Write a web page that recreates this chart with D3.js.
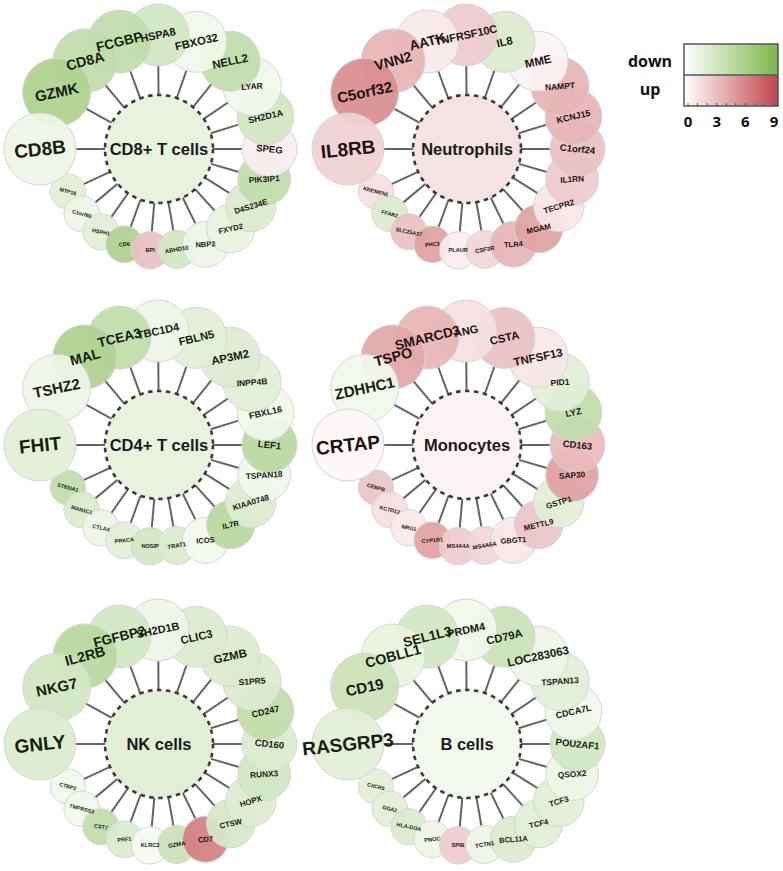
<!DOCTYPE html>
<html><head><meta charset="utf-8">
<script src="https://cdn.jsdelivr.net/npm/d3@7"></script>
<style>body{margin:0;background:#fff} svg{display:block}</style>
</head><body><svg id="c" width="783" height="871"></svg>
<script>
// ---------------- DATA ----------------
const cellTypes  = ["CD8+ T cells", "Neutrophils", "CD4+ T cells", "Monocytes", "NK cells", "B cells"];
// signed expression score: negative = down (green), positive = up (red), |value| on 0..9
const cellValues = [-1.6, 1.4, -1.6, 0.6, -2.0, -0.9];

const genesCD8  = ["CD8B","GZMK","CD8A","FCGBP","HSPA8","FBXO32","NELL2","LYAR","SH2D1A","SPEG","PIK3IP1","D4S234E","FXYD2","NBP2","ABHD10","BPI","CD6","HSPH1","C1orf80","MTP18"];
const valuesCD8 = [-1.2,-5.5,-4.2,-4.2,-3,-1,-4.2,-1,-3,0.8,-4.2,-2.5,-1.5,-1.2,-3,3,-5.5,-2,-1.2,-2];

const genesNeu  = ["IL8RB","C5orf32","VNN2","AATK","TNFRSF10C","IL8","MME","NAMPT","KCNJ15","C1orf24","IL1RN","TECPR2","MGAM","TLR4","CSF3R","PLAUR","PHC3","SLC25A37","FFAR2","KREMEN1"];
const valuesNeu = [2.2,5.5,3.6,1,2.5,-2.5,0.6,3.6,3.6,3,2.5,1.2,4.5,3.6,2,0.8,4.6,3,-2.5,1.5];

const genesCD4  = ["FHIT","TSHZ2","MAL","TCEA3","TBC1D4","FBLN5","AP3M2","INPP4B","FBXL16","LEF1","TSPAN18","KIAA0748","IL7R","ICOS","TRAT1","NOSIP","PRKCA","CTLA4","MAN1C1","ST8SIA1"];
const valuesCD4 = [-2,-1.2,-5.5,-4.2,-1.2,-2,-2.3,-2,-1,-4.8,-1,-2.3,-4.8,-0.8,-2.5,-3,-2,-1.2,-2.5,-4.2];

const genesMono  = ["CRTAP","ZDHHC1","TSPO","SMARCD3","ANG","CSTA","TNFSF13","PID1","LYZ","CD163","SAP30","GSTP1","METTL9","GBGT1","MS4A6A","MS4A4A","CYP1B1","NRG1","KCTD12","CEBPB"];
const valuesMono = [0.4,-1,4.2,3.6,1.5,3,1.2,-2,-4.2,3.3,4.6,-2,2.8,1.2,2,2.5,4.5,1,1.5,2.8];

const genesNK  = ["GNLY","NKG7","IL2RB","FGFBP2","SH2D1B","CLIC3","GZMB","S1PR5","CD247","CD160","RUNX3","HOPX","CTSW","CD7","GZMA","KLRC3","PRF1","CST7","TMPRSS3","CTBP2"];
const valuesNK = [-2.5,-3,-4.8,-3,-1.2,-2.5,-2.5,-2.5,-4.2,-2.5,-3,-2.3,-2.8,6.2,-3.6,-0.6,-2.5,-4.2,-1,-1];

const genesB  = ["RASGRP3","CD19","COBLL1","SEL1L3","PRDM4","CD79A","LOC283063","TSPAN13","CDCA7L","POU2AF1","QSOX2","TCF3","TCF4","BCL11A","TCTN1","SPIB","PNOC","HLA-DOA","GGA2","CXCR5"];
const valuesB = [-2,-3.6,-1.5,-3,-1,-3.6,-1.2,-2,-1,-3,-1.2,-2,-2,-2.5,-1.2,2.5,-1.2,-2.5,-2,-2];

const legendLabels = ["down", "up"];
const legendTicks  = [0, 3, 6, 9];

// ---------------- LAYOUT ----------------
const panels = [
  {name: cellTypes[0], center: cellValues[0], genes: genesCD8,  values: valuesCD8,  col: 0, row: 0},
  {name: cellTypes[1], center: cellValues[1], genes: genesNeu,  values: valuesNeu,  col: 1, row: 0},
  {name: cellTypes[2], center: cellValues[2], genes: genesCD4,  values: valuesCD4,  col: 0, row: 1},
  {name: cellTypes[3], center: cellValues[3], genes: genesMono, values: valuesMono, col: 1, row: 1},
  {name: cellTypes[4], center: cellValues[4], genes: genesNK,   values: valuesNK,   col: 0, row: 2},
  {name: cellTypes[5], center: cellValues[5], genes: genesB,    values: valuesB,    col: 1, row: 2}
];
const colX = [159, 467], rowY = [149, 445, 744];
const hubR = 54, ringGap = 83;

// rank -> angle (deg, screen coords, clockwise from the left over the top)
const angleScale  = d3.scaleLinear().domain([0,1,2,6,9,14,19]).range([180,209,230,309,360,440,515]);
const radiusScale = d3.scaleLinear().domain([0,1,2,6,9,13,14,19]).range([36,34,32,30,27.5,23,19,17.5]);
const fontScale   = d3.scaleLinear().domain([0,1,3,4,6,7,9,10,13,14,15,19]).range([19,15,13.5,11,11.5,8.5,9.5,8.3,7.5,6,5.6,5.3]);
const tiltByRank  = [-6,-12,-15,-14,-12,-13,-12,-4,-13,6,-4,-17,-13,-4,-10,0,-6,12,15,15];

const downColor = d3.scaleLinear().domain([0,9]).range(["#ffffff","#7cb64a"]).interpolate(d3.interpolateRgb);
const upColor   = d3.scaleLinear().domain([0,9]).range(["#ffffff","#c0454a"]).interpolate(d3.interpolateRgb);
const colorOf = v => v < 0 ? downColor(-v) : upColor(v);

const svg = d3.select("#c");
const FONT = "'Liberation Sans', Arial, Helvetica, sans-serif";

panels.forEach(p => {
  const cx = colX[p.col], cy = rowY[p.row];
  const g = svg.append("g").attr("transform", `translate(${cx},${cy})`);
  const nodes = p.genes.map((gname, i) => {
    const a = angleScale(i) * Math.PI / 180;
    const r = radiusScale(i);
    const d = ringGap + r;
    return {gname, v: p.values[i], i, a, r, d, x: d * Math.cos(a), y: d * Math.sin(a)};
  });
  // spokes
  g.append("g").selectAll("line").data(nodes).join("line")
    .attr("x1", n => hubR * Math.cos(n.a)).attr("y1", n => hubR * Math.sin(n.a))
    .attr("x2", n => (n.d - n.r + 2) * Math.cos(n.a)).attr("y2", n => (n.d - n.r + 2) * Math.sin(n.a))
    .attr("stroke", "#646464").attr("stroke-width", 2);
  // hub
  g.append("circle").attr("r", hubR)
    .attr("fill", colorOf(p.center))
    .attr("stroke", "#3a3a3a").attr("stroke-width", 2.6).attr("stroke-dasharray", "4.5,4.5");
  g.append("text").text(p.name)
    .attr("text-anchor", "middle").attr("dy", "0.35em")
    .attr("font-family", FONT).attr("font-weight", "bold").attr("font-size", 16.5)
    .attr("fill", "#1b1b1b");
  // nodes (earlier ranks on top)
  const ordered = nodes.slice().reverse();
  g.append("g").selectAll("circle").data(ordered).join("circle")
    .attr("cx", n => n.x).attr("cy", n => n.y).attr("r", n => n.r)
    .attr("fill", n => colorOf(n.v)).attr("fill-opacity", 0.93)
    .attr("stroke", "#d6d6d6").attr("stroke-width", 1);
  // labels
  g.append("g").selectAll("text").data(nodes).join("text")
    .text(n => n.gname)
    .attr("transform", n => `translate(${n.x},${n.y}) rotate(${tiltByRank[n.i]})`)
    .attr("text-anchor", "middle").attr("dy", "0.35em")
    .attr("font-family", FONT).attr("font-weight", "bold")
    .attr("font-size", n => fontScale(n.i))
    .attr("fill", n => n.v < 0 ? "#16200f" : "#24110f");
});

// ---------------- LEGEND ----------------
const lx = d3.scaleLinear().domain([0, 9]).range([688, 774]);
const defs = svg.append("defs");
[["gDown", "#7cb64a"], ["gUp", "#c0454a"]].forEach(([id, c]) => {
  const lg = defs.append("linearGradient").attr("id", id).attr("x1", "0%").attr("x2", "100%");
  lg.append("stop").attr("offset", "0%").attr("stop-color", "#ffffff");
  lg.append("stop").attr("offset", "100%").attr("stop-color", c);
});
const lgX0 = lx(0) - 4, lgX1 = lx(9) + 4, lgY0 = 44, lgYm = 75, lgY1 = 106;
const leg = svg.append("g");
leg.append("rect").attr("x", lgX0).attr("y", lgY0).attr("width", lgX1 - lgX0).attr("height", lgYm - lgY0).attr("fill", "url(#gDown)");
leg.append("rect").attr("x", lgX0).attr("y", lgYm).attr("width", lgX1 - lgX0).attr("height", lgY1 - lgYm).attr("fill", "url(#gUp)");
leg.append("rect").attr("x", lgX0).attr("y", lgY0).attr("width", lgX1 - lgX0).attr("height", lgY1 - lgY0)
  .attr("fill", "none").attr("stroke", "#555").attr("stroke-width", 1.5);
leg.append("line").attr("x1", lgX0).attr("x2", lgX1).attr("y1", lgYm).attr("y2", lgYm).attr("stroke", "#555").attr("stroke-width", 1.5);
leg.append("g").selectAll("line").data(d3.range(0, 10)).join("line")
  .attr("x1", d => lx(d)).attr("x2", d => lx(d)).attr("y1", lgY1).attr("y2", lgY1 - 3)
  .attr("stroke", "#555").attr("stroke-width", 1);
leg.append("g").selectAll("text").data(legendTicks).join("text")
  .text(d => d).attr("x", d => lx(d)).attr("y", 127)
  .attr("text-anchor", "middle").attr("font-family", "'Open Sans', sans-serif").attr("font-weight", "bold")
  .attr("font-size", 15).attr("fill", "#111");
leg.append("g").selectAll("text").data(legendLabels).join("text")
  .text(d => d).attr("x", 650).attr("y", (d, i) => i === 0 ? 67 : 95)
  .attr("text-anchor", "middle").attr("font-family", "'Open Sans', sans-serif").attr("font-weight", "bold")
  .attr("font-size", 16).attr("fill", "#111");
</script></body></html>
